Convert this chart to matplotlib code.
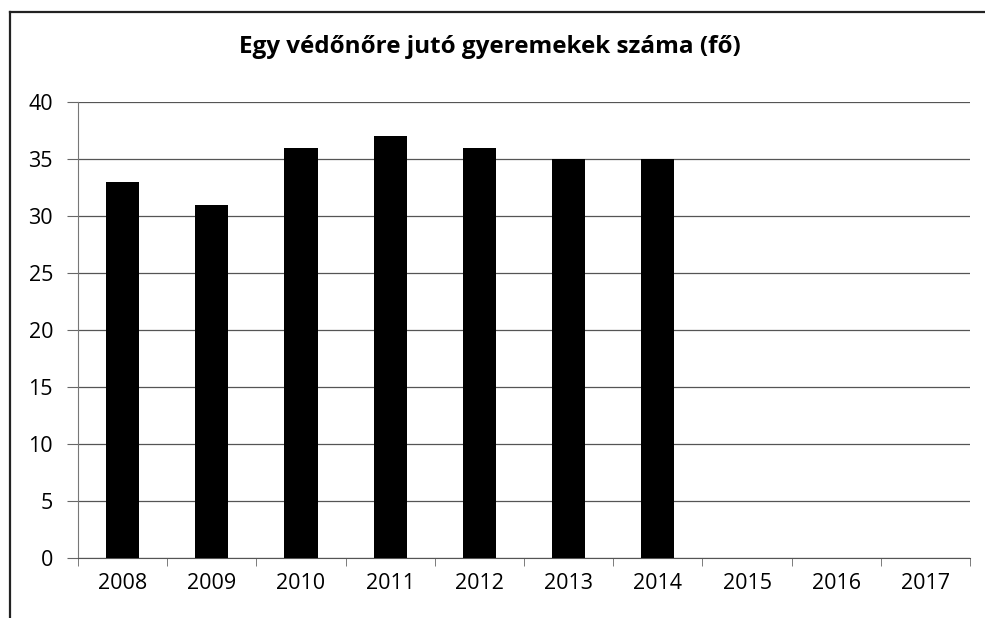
import matplotlib
matplotlib.use("Agg")
import matplotlib.pyplot as plt
from matplotlib.lines import Line2D

years = ["2008", "2009", "2010", "2011", "2012", "2013", "2014", "2015", "2016", "2017"]
values = [33, 31, 36, 37, 36, 35, 35]
title = "Egy védőnőre jutó gyeremekek száma (fő)"
yticks = [0, 5, 10, 15, 20, 25, 30, 35, 40]

plt.rcParams['font.family'] = ['Open Sans', 'DejaVu Sans']

W, H = 985, 618
fig = plt.figure(figsize=(W / 100, H / 100), dpi=100)
fig.patch.set_facecolor("white")

# outer chart frame (cut at right/bottom as in the scan)
fig.add_artist(Line2D([10 / W, 10 / W], [0, 1 - 12 / H], transform=fig.transFigure,
                      color="#222222", lw=1.6))
fig.add_artist(Line2D([10 / W, 1.0], [1 - 12 / H, 1 - 12 / H], transform=fig.transFigure,
                      color="#222222", lw=1.6))

ax = fig.add_axes([78 / W, 1 - 558 / H, (970 - 78) / W, (558 - 102) / H])
x = list(range(len(values)))
ax.bar(x, values, width=0.37, color="black", zorder=3)

ax.set_xlim(-0.5, len(years) - 0.5)
ax.set_ylim(0, 40)
ax.set_yticks(yticks)
ax.set_yticklabels([str(v) for v in yticks], fontsize=15.5)
ax.set_xticks(range(len(years)))
ax.set_xticklabels(years, fontsize=15.5)
ax.tick_params(axis="x", length=0, pad=11)
ax.set_xticks([i - 0.5 for i in range(len(years) + 1)], minor=True)
ax.tick_params(axis="x", which="minor", length=6, color="#666666", direction="out")
ax.tick_params(axis="y", length=8, color="#666666", pad=10)

ax.yaxis.grid(True, color="#555555", lw=0.9, zorder=0)
ax.set_axisbelow(True)
for s in ["top", "right"]:
    ax.spines[s].set_visible(False)
ax.spines["left"].set_color("#777777")
ax.spines["bottom"].set_color("#555555")

fig.text(490 / W, 1 - 47 / H, title, ha="center", va="center", fontsize=17.5, fontweight="bold")

fig.savefig("out.png", dpi=100, facecolor="white")
